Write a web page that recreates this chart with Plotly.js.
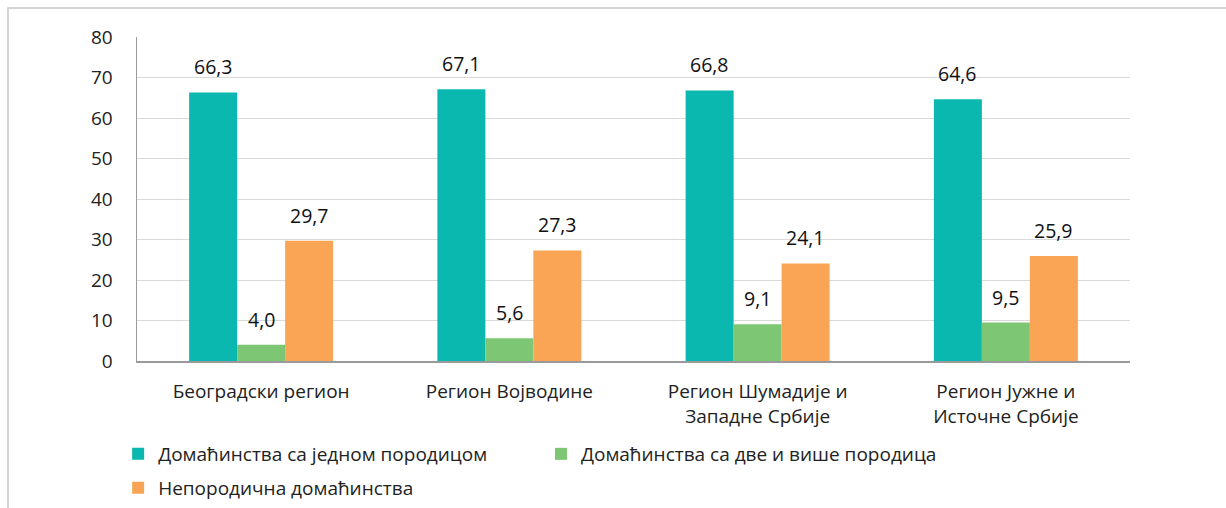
<!DOCTYPE html>
<html><head><meta charset="utf-8">
<script src="https://cdn.plot.ly/plotly-3.0.1.min.js"></script>
<style>html,body{margin:0;padding:0;background:#fff}#c{width:1226px;height:508px}</style>
</head><body><div id="c"></div>
<script>
const categories = ["Београдски регион","Регион Војводине","Регион Шумадије и<br>Западне Србије","Регион Јужне и<br>Источне Србије"];
const seriesNames = ["Домаћинства са једном породицом","Домаћинства са две и више породица","Непородична домаћинства"];
const oneFamily = [66.3,67.1,66.8,64.6];
const multiFamily = [4.0,5.6,9.1,9.5];
const nonFamily = [29.7,27.3,24.1,25.9];
const colors = ["#0BB8AF","#7DC673","#F9A555"];
const yTicks = [0,10,20,30,40,50,60,70,80];

const FONT = "Open Sans, Noto Sans, sans-serif";
const TXT = "#222";
const series = [oneFamily, multiFamily, nonFamily];
const fmt = v => v.toFixed(1).replace(".", ",");
const legendIds = ["legend","legend3","legend2"];

const traces = series.map((vals,i)=>({
  type:"bar", x:categories, y:vals, name:seriesNames[i],
  marker:{color:colors[i]}, hoverinfo:"none",
  legend: legendIds[i]
}));

const annotations = [];
const shifts = [-48,0,48];
series.forEach((vals,i)=>vals.forEach((v,j)=>{
  annotations.push({x:categories[j], y:v, xref:"x", yref:"y", text:fmt(v), showarrow:false,
    xshift:shifts[i], yanchor:"bottom", yshift:10, font:{family:FONT,size:19.5,color:"#111"}});
}));

const H = 471; // paper height in px (margin b = 0)
const legFont = {family:FONT,size:19,color:TXT};
const layout = {
  width:1226, height:508,
  margin:{l:137, r:96, t:37, b:0},
  paper_bgcolor:"#fff", plot_bgcolor:"#fff",
  barmode:"group", bargap:0.42, bargroupgap:0,
  font:{family:FONT, size:19, color:TXT},
  xaxis:{type:"category", showline:true, linecolor:"#9a9a9a", linewidth:2, ticks:"", showgrid:false,
    tickfont:{family:FONT,size:19,color:TXT}, ticklabelstandoff:12, automargin:false},
  yaxis:{domain:[147/H,1], range:[0,80], tickvals:yTicks, showline:true, linecolor:"#9a9a9a", linewidth:1.5,
    gridcolor:"#d9d9d9", gridwidth:1, zeroline:false, ticks:"", ticklabelstandoff:19,
    tickfont:{family:FONT,size:19,color:TXT}, automargin:false},
  legend:{orientation:"h", x:-0.019, xanchor:"left", y:73/H, yanchor:"top", font:legFont},
  legend3:{orientation:"h", x:0.4068, xanchor:"left", y:73/H, yanchor:"top", font:legFont},
  legend2:{orientation:"h", x:-0.019, xanchor:"left", y:39/H, yanchor:"top", font:legFont},
  annotations:annotations,
  shapes:[{type:"rect", xref:"paper", yref:"paper", x0:-129/993, x1:1.2, y0:-0.2, y1:1+29/H,
    line:{color:"#c8c8c8", width:1.5}, fillcolor:"rgba(0,0,0,0)", layer:"below"}],
  showlegend:true
};
Plotly.newPlot("c", traces, layout, {displayModeBar:false, staticPlot:true});
</script></body></html>
